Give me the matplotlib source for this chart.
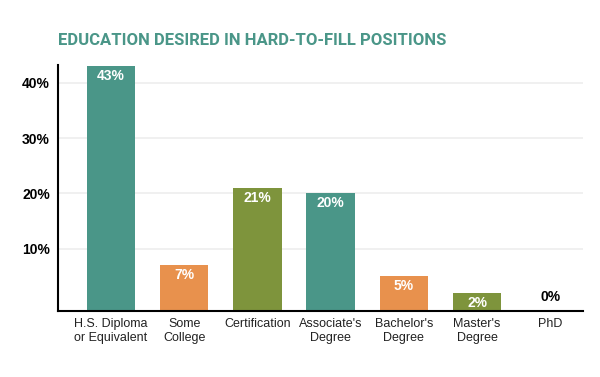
import matplotlib.pyplot as plt
import numpy as np

categories = ['H.S. Diploma\nor Equivalent', 'Some\nCollege', 'Certification',
              "Associate's\nDegree", "Bachelor's\nDegree", "Master's\nDegree", 'PhD']
values = [43, 7, 21, 20, 5, 2, 0]
ticks = [10, 20, 30, 40]

teal = '#4a9688'
orange = '#e8914d'
olive = '#7e943c'
colors = [teal, orange, olive, teal, orange, olive, teal]

fig = plt.figure(figsize=(6, 3.77), dpi=100)
ax = fig.add_axes([0.097, 0.175, 0.875, 0.652])

# bars rise from the axis floor, a little below zero, like the original graphic
floor = -1.3
x = np.arange(len(values))
heights = [v - floor if v > 0 else 0 for v in values]
ax.bar(x, heights, bottom=floor, width=0.66, color=colors, zorder=2)
ax.set_xlim(-0.72, 6.45)
ax.set_ylim(floor, 43.2)

for xi, v in zip(x, values):
    if v > 0:
        ax.text(xi, v - 0.5, f'{v}%', ha='center', va='top', color='white',
                fontsize=10, fontweight='bold', family='Liberation Sans')
    else:
        ax.text(xi, floor + 1.2, f'{v}%', ha='center', va='bottom', color='black',
                fontsize=10, fontweight='bold', family='Liberation Sans')

ax.set_yticks(ticks)
ax.set_yticklabels([f'{t}%' for t in ticks], fontsize=10, fontweight='bold',
                   family='Liberation Sans')
ax.set_xticks(x)
ax.set_xticklabels(categories, fontsize=9, family='Liberation Sans', color='#222222',
                   linespacing=1.25)
ax.tick_params(axis='y', length=0, pad=6)
ax.tick_params(axis='x', length=0, pad=5)
ax.grid(axis='y', color='#eeeeee', linewidth=1.2, zorder=0)

for side in ['top', 'right']:
    ax.spines[side].set_visible(False)
ax.spines['left'].set_linewidth(1.5)
ax.spines['bottom'].set_linewidth(1.5)

fig.text(0.097, 0.893, 'EDUCATION DESIRED IN HARD-TO-FILL POSITIONS',
         fontsize=12, fontweight='bold', color=teal,
         family=['Roboto', 'DejaVu Sans'], va='center')

fig.savefig('out.png', dpi=100)
